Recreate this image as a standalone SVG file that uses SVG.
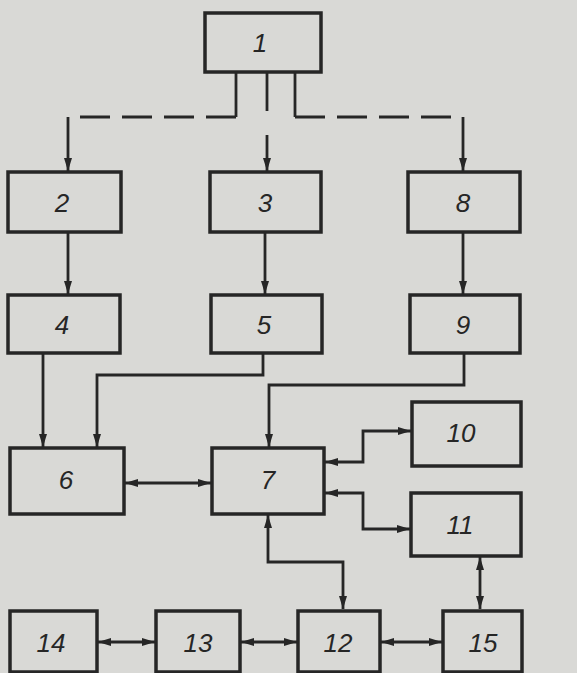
<svg xmlns="http://www.w3.org/2000/svg" width="577" height="673" viewBox="0 0 577 673">
<style>
.box{fill:none;stroke:#262626;stroke-width:3.5}
.ln{fill:none;stroke:#262626;stroke-width:2.8}
.dash{stroke-dasharray:30 12}
.t{font-family:"Liberation Sans",Arial,sans-serif;font-style:italic;font-size:26px;fill:#262626;text-anchor:middle;dominant-baseline:central}
</style>
<defs>
<marker id="ah" viewBox="0 0 13 8" refX="13" refY="4" markerWidth="13" markerHeight="8" markerUnits="userSpaceOnUse" orient="auto-start-reverse">
<path d="M0,0 L13,4 L0,8 Z" fill="#262626"/>
</marker>
</defs>
<rect width="577" height="673" fill="#d9d9d6"/>
<g id="connectors">
<path class="ln" d="M236,72 V117"/>
<path class="ln dash" d="M236,117 H68"/>
<path class="ln" d="M68,117 V171" marker-end="url(#ah)"/>
<path class="ln" d="M267,72 V111"/>
<path class="ln" d="M267,135 V171" marker-end="url(#ah)"/>
<path class="ln" d="M295,72 V117"/>
<path class="ln dash" d="M295,117 H463"/>
<path class="ln" d="M463,117 V171" marker-end="url(#ah)"/>
<path class="ln" d="M68,232 V294" marker-end="url(#ah)"/>
<path class="ln" d="M265,232 V294" marker-end="url(#ah)"/>
<path class="ln" d="M463,232 V294" marker-end="url(#ah)"/>
<path class="ln" d="M43,353 V447" marker-end="url(#ah)"/>
<path class="ln" d="M263,353 V375 H97 V447" marker-end="url(#ah)"/>
<path class="ln" d="M464,353 V385 H269 V447" marker-end="url(#ah)"/>
<path class="ln" d="M125,483 H211" marker-start="url(#ah)" marker-end="url(#ah)"/>
<path class="ln" d="M325,462 H363 V431 H411" marker-start="url(#ah)" marker-end="url(#ah)"/>
<path class="ln" d="M325,493 H363 V529 H410" marker-start="url(#ah)" marker-end="url(#ah)"/>
<path class="ln" d="M268,515 V562 H343 V609" marker-start="url(#ah)" marker-end="url(#ah)"/>
<path class="ln" d="M480,557 V609" marker-start="url(#ah)" marker-end="url(#ah)"/>
<path class="ln" d="M98,642 H155" marker-start="url(#ah)" marker-end="url(#ah)"/>
<path class="ln" d="M241,642 H297" marker-start="url(#ah)" marker-end="url(#ah)"/>
<path class="ln" d="M381,642 H442" marker-start="url(#ah)" marker-end="url(#ah)"/>
</g>
<g id="n1"><rect class="box" x="205" y="13" width="116" height="59"/><text class="t" x="260" y="43">1</text></g>
<g id="n2"><rect class="box" x="8" y="172" width="113" height="60"/><text class="t" x="62" y="203">2</text></g>
<g id="n3"><rect class="box" x="210" y="172" width="111" height="60"/><text class="t" x="265" y="203">3</text></g>
<g id="n8"><rect class="box" x="408" y="172" width="112" height="60"/><text class="t" x="463" y="203">8</text></g>
<g id="n4"><rect class="box" x="8" y="295" width="112" height="58"/><text class="t" x="62" y="325">4</text></g>
<g id="n5"><rect class="box" x="211" y="295" width="111" height="58"/><text class="t" x="264" y="325">5</text></g>
<g id="n9"><rect class="box" x="410" y="295" width="110" height="58"/><text class="t" x="463" y="325">9</text></g>
<g id="n6"><rect class="box" x="10" y="448" width="114" height="66"/><text class="t" x="66" y="480">6</text></g>
<g id="n7"><rect class="box" x="212" y="448" width="112" height="66"/><text class="t" x="268" y="480">7</text></g>
<g id="n10"><rect class="box" x="412" y="402" width="109" height="64"/><text class="t" x="461" y="433">10</text></g>
<g id="n11"><rect class="box" x="411" y="493" width="110" height="63"/><text class="t" x="460" y="525">11</text></g>
<g id="n14"><rect class="box" x="10" y="611" width="87" height="61"/><text class="t" x="51" y="643">14</text></g>
<g id="n13"><rect class="box" x="156" y="611" width="84" height="61"/><text class="t" x="198" y="643">13</text></g>
<g id="n12"><rect class="box" x="298" y="611" width="82" height="61"/><text class="t" x="338" y="643">12</text></g>
<g id="n15"><rect class="box" x="443" y="611" width="79" height="61"/><text class="t" x="483" y="643">15</text></g>
</svg>
